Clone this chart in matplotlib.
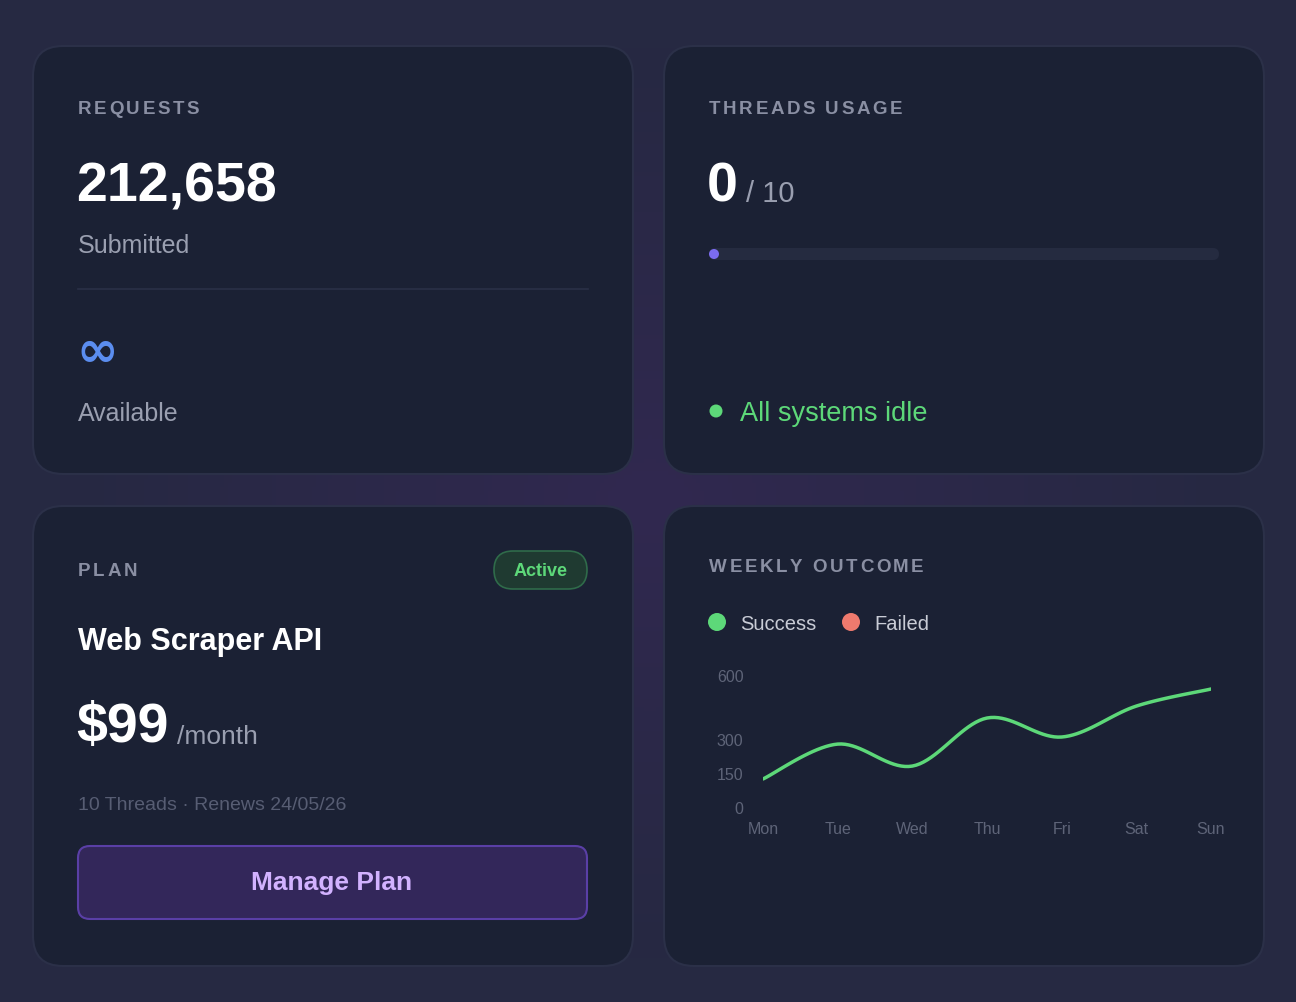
import numpy as np
import matplotlib
matplotlib.use("Agg")
import matplotlib.pyplot as plt
from matplotlib.patches import FancyBboxPatch, Circle

plt.rcParams["font.family"] = ["Liberation Sans", "DejaVu Sans"]

# data
days = ["Mon", "Tue", "Wed", "Thu", "Fri", "Sat", "Sun"]
success = [128, 282, 185, 403, 314, 459, 539]
y_ticks = [0, 150, 300, 600]
requests = "212,658"
threads_used, threads_total = 0, 10

W, H = 1296, 1002
fig = plt.figure(figsize=(W / 100, H / 100), dpi=100)
bg = fig.add_axes([0, 0, 1, 1])
bg.set_xlim(0, W)
bg.set_ylim(H, 0)
bg.axis("off")
renderer = fig.canvas.get_renderer()

# background: dark navy with a purple glow in the middle
yy, xx = np.mgrid[0:H:4, 0:W:4]
d = np.hypot((xx - W / 2) / W, (yy - H / 2) / H)
glow = np.clip(1 - d * 2.2, 0, 1)[..., None]
base = np.array([0x26, 0x29, 0x42]) / 255
mid = np.array([0x31, 0x28, 0x50]) / 255
bg.imshow(base + (mid - base) * glow, extent=(0, W, H, 0), zorder=0)

CARD = "#1b2134"
EDGE = "#2b3048"
LABEL = "#8a8fa3"
MUTED = "#9a9fb0"


def card(x0, y0, x1, y1):
    bg.add_patch(FancyBboxPatch((x0, y0), x1 - x0, y1 - y0,
                                boxstyle="round,pad=0,rounding_size=30",
                                fc=CARD, ec=EDGE, lw=1.5, zorder=1))


for c in [(33, 46, 633, 474), (664, 46, 1264, 474),
          (33, 506, 633, 966), (664, 506, 1264, 966)]:
    card(*c)


def txt(x, y, s, **kw):
    kw.setdefault("va", "center")
    return bg.text(x, y + 3, s, zorder=3, **kw)


def spaced(x, y, s, track=2.6, **kw):
    # letter-spaced caps label: advance by each glyph's measured width
    for ch in s:
        if ch == " ":
            x += 5 + track
            continue
        t = txt(x, y, ch, **kw)
        x += t.get_window_extent(renderer).width + track


cap = dict(color=LABEL, fontsize=13.5, weight="bold")

# requests card
spaced(78, 106, "REQUESTS", **cap)
txt(76, 184, requests, color="white", fontsize=40, weight="bold")
txt(78, 243, "Submitted", color=MUTED, fontsize=18)
bg.plot([78, 588], [289, 289], color="#2a3047", lw=1.2, zorder=2)
txt(76, 349, "∞", color="#5b8def", fontsize=36, weight="bold",
    family="DejaVu Sans")
txt(78, 411, "Available", color=MUTED, fontsize=18)

# threads card
spaced(709, 106, "THREADS USAGE", **cap)
txt(707, 184, str(threads_used), color="white", fontsize=40, weight="bold")
txt(746, 191, f"/ {threads_total}", color=MUTED, fontsize=21)
bg.add_patch(FancyBboxPatch((709, 248), 510, 12, boxstyle="round,pad=0,rounding_size=6",
                            fc="#252b40", ec="none", zorder=2))
bg.add_patch(Circle((714, 254), 5, fc="#7b6cf0", ec="none", zorder=3))
bg.add_patch(Circle((716, 411), 6.5, fc="#5dd879", ec="none", zorder=3))
txt(740, 411, "All systems idle", color="#5dd879", fontsize=19.5)

# plan card
spaced(78, 569, "PLAN", **cap)
bg.add_patch(FancyBboxPatch((494, 551), 93, 38, boxstyle="round,pad=0,rounding_size=19",
                            fc="#1f3a31", ec="#2f6b4a", lw=1.2, zorder=2))
txt(540.5, 569, "Active", color="#5dd879", fontsize=13, weight="bold", ha="center")
txt(78, 639, "Web Scraper API", color="white", fontsize=22, weight="bold")
txt(76, 725, "$99", color="white", fontsize=40, weight="bold")
txt(177, 734, "/month", color=MUTED, fontsize=19)
txt(78, 803, "10 Threads · Renews 24/05/26", color="#575d73", fontsize=14)
bg.add_patch(FancyBboxPatch((78, 846), 509, 73, boxstyle="round,pad=0,rounding_size=12",
                            fc="#33275a", ec="#5a3fa6", lw=1.5, zorder=2))
txt(332, 880, "Manage Plan", color="#d2b2ff", fontsize=19, weight="bold", ha="center")

# weekly outcome card
spaced(709, 565, "WEEKLY OUTCOME", **cap)
bg.add_patch(Circle((717, 622), 9, fc="#5dd879", ec="none", zorder=3))
txt(740, 621, "Success", color="#c9ccd6", fontsize=14.5)
bg.add_patch(Circle((851, 622), 9, fc="#ef7a6e", ec="none", zorder=3))
txt(874, 621, "Failed", color="#c9ccd6", fontsize=14.5)

# chart axes (non-uniform y scale as in the reference)
vals = [0, 150, 300, 600]
pos = [0, 34, 68, 132]
fwd = lambda v: np.interp(v, vals, pos)
inv = lambda p: np.interp(p, pos, vals)
ax = fig.add_axes([763 / W, (H - 808) / H, 448 / W, 132 / H])
ax.set_facecolor("none")
ax.set_yscale("function", functions=(fwd, inv))
x = np.arange(len(days))

# smooth line through the points (Catmull-Rom in display-scale space)
py = fwd(np.array(success, float))
pts = np.column_stack([x, py])
ext = np.vstack([pts[0], pts, pts[-1]])
curve = []
for i in range(1, len(ext) - 2):
    p0, p1, p2, p3 = ext[i - 1], ext[i], ext[i + 1], ext[i + 2]
    for t in np.linspace(0, 1, 20, endpoint=False):
        curve.append(0.5 * (2 * p1 + (-p0 + p2) * t + (2 * p0 - 5 * p1 + 4 * p2 - p3) * t**2
                            + (-p0 + 3 * p1 - 3 * p2 + p3) * t**3))
curve.append(pts[-1])
curve = np.array(curve)
ax.plot(curve[:, 0], inv(curve[:, 1]), color="#5dd879", lw=2.5, solid_capstyle="round")

ax.set_xlim(0, 6)
ax.set_ylim(0, 600)
ax.set_xticks(x)
ax.set_xticklabels(days)
ax.set_yticks(y_ticks)
for s in ax.spines.values():
    s.set_visible(False)
ax.tick_params(length=0, colors="#5e6478", labelsize=11.5)
ax.tick_params(axis="y", pad=14)
ax.tick_params(axis="x", pad=10)

fig.savefig("out.png", dpi=100)
